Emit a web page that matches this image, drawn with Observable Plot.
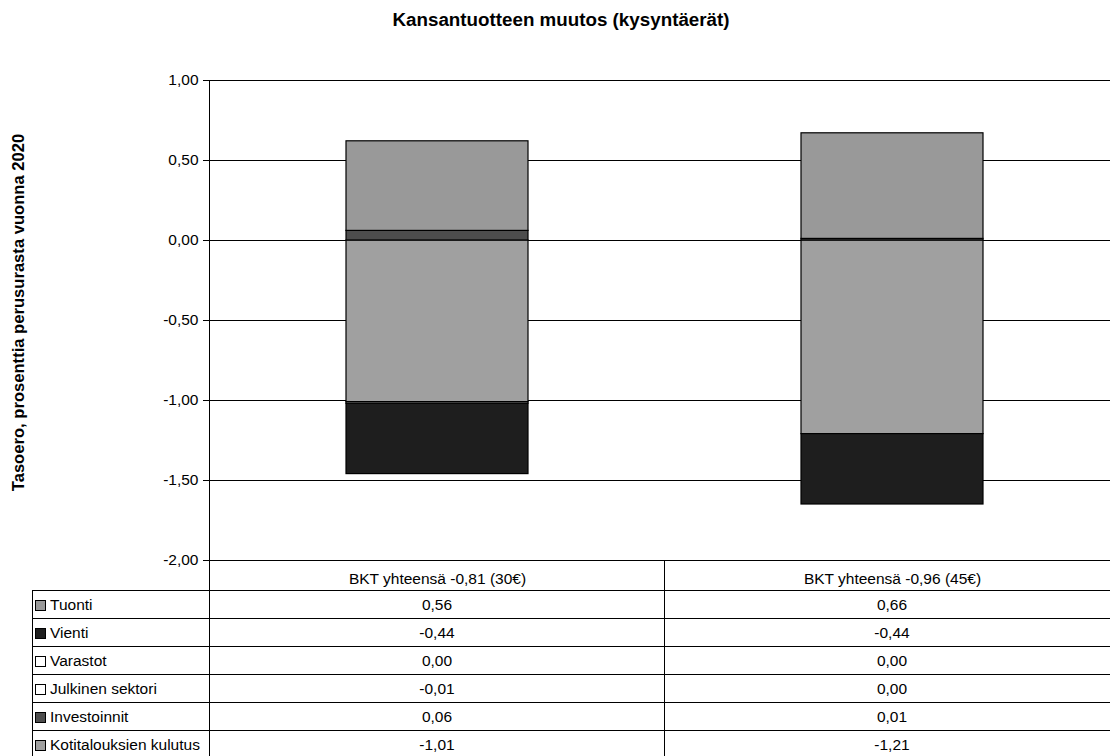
<!DOCTYPE html>
<html>
<head>
<meta charset="utf-8">
<script src="https://cdn.jsdelivr.net/npm/d3@7"></script>
<script src="https://cdn.jsdelivr.net/npm/@observablehq/plot@0.6"></script>
<style>
  html, body { margin: 0; padding: 0; background: #fff; overflow: hidden; }
  #wrap { position: relative; width: 1110px; height: 756px; overflow: hidden; font-family: "Liberation Sans", Arial, sans-serif; color: #000; }
  #title { position: absolute; left: 0; top: 9px; width: 1122px; text-align: center; font-weight: bold; font-size: 18.8px; line-height: 22px; }
  #chart { position: absolute; left: 0; top: 0; }
  #tbl { position: absolute; left: 32px; top: 560px; border-collapse: separate; border-spacing: 0; table-layout: fixed; width: 1087px; font-size: 15.5px; }
  #tbl td { padding: 0; vertical-align: middle; }
  #tbl tr.head td { height: 30px; }
  #tbl tr.head td.cat { border-left: 1px solid #000; }
  #tbl tr.row td { height: 27px; border-top: 1px solid #000; border-left: 1px solid #000; text-align: center; }
  #tbl tr.row td.lab { text-align: left; padding-left: 2px; white-space: nowrap; }
  .sw { display: inline-block; width: 9px; height: 9px; border: 1px solid #000; margin-right: 4px; vertical-align: -1px; }
</style>
</head>
<body>
<div id="wrap">
  <div id="title"></div>
  <div id="chart"></div>
  <table id="tbl"></table>
</div>
<script>
// ---- data ----
const title = "Kansantuotteen muutos (kysyntäerät)";
const yLabel = "Tasoero, prosenttia perusurasta vuonna 2020";
const categories = ["BKT yhteensä -0,81 (30€)", "BKT yhteensä -0,96 (45€)"];
// table order (top to bottom)
const seriesNames = ["Tuonti", "Vienti", "Varastot", "Julkinen sektori", "Investoinnit", "Kotitalouksien kulutus"];
const tuonti = [0.56, 0.66];
const vienti = [-0.44, -0.44];
const varastot = [0.00, 0.00];
const julkinen = [-0.01, 0.00];
const investoinnit = [0.06, 0.01];
const kotitaloudet = [-1.01, -1.21];
const yTicks = [1.0, 0.5, 0.0, -0.5, -1.0, -1.5, -2.0];

// ---- styles ----
const seriesColors = ["#999999", "#1e1e1e", "#ffffff", "#ffffff", "#4d4d4d", "#a0a0a0"];

const seriesValues = [tuonti, vienti, varastot, julkinen, investoinnit, kotitaloudet];
const fmt = v => v.toFixed(2).replace(".", ",");

// stacking order: first series in Excel (Kotitalouksien kulutus) lies nearest zero
const stackOrder = seriesNames.map((_, i) => i).reverse();
const data = [];
for (const si of stackOrder) {
  categories.forEach((c, ci) => data.push({cat: c, series: seriesNames[si], value: seriesValues[si][ci]}));
}

document.getElementById("title").textContent = title;

const chart = Plot.plot({
  width: 1110,
  height: 590,
  marginTop: 80,
  marginBottom: 30,
  marginLeft: 209,
  marginRight: 0,
  style: {fontFamily: "Liberation Sans, Arial, sans-serif", fontSize: "15.5px", color: "#000", background: "transparent", overflow: "visible"},
  x: {domain: categories, range: [209, 1119], paddingInner: 0.6, paddingOuter: 0.3, label: null},
  y: {domain: [-2, 1], label: null},
  color: {domain: seriesNames, range: seriesColors},
  marks: [
    Plot.ruleY(yTicks, {stroke: "#000", strokeWidth: 1}),
    Plot.barY(data.filter(d => d.value !== 0), Plot.stackY({x: "cat", y: "value", fill: "series", stroke: "#000", strokeWidth: 1.2})),
    Plot.frame({anchor: "left", stroke: "#000"}),
    Plot.axisY({ticks: yTicks, tickFormat: fmt, tickSize: 6, tickPadding: 5, fontSize: 15.5, stroke: "#000", label: null}),
    Plot.axisX({tickSize: 0, tickPadding: 12, fontSize: 15.5, label: null}),
    Plot.text([yLabel], {frameAnchor: "left", textAnchor: "middle", dx: -191, dy: -8, rotate: -90, fontWeight: "bold", fontSize: 16.6, fill: "#000"})
  ]
});
document.getElementById("chart").appendChild(chart);

// ---- data table ----
const tbl = document.getElementById("tbl");
const colg = document.createElement("colgroup");
[177, 455, 455].forEach(w => { const c = document.createElement("col"); c.style.width = w + "px"; colg.appendChild(c); });
tbl.appendChild(colg);
const head = document.createElement("tr");
head.className = "head";
head.appendChild(document.createElement("td"));
categories.forEach(() => { const td = document.createElement("td"); td.className = "cat"; head.appendChild(td); });
tbl.appendChild(head);
seriesNames.forEach((name, si) => {
  const tr = document.createElement("tr");
  tr.className = "row";
  const lab = document.createElement("td");
  lab.className = "lab";
  const sw = document.createElement("span");
  sw.className = "sw";
  sw.style.background = seriesColors[si];
  lab.appendChild(sw);
  lab.appendChild(document.createTextNode(name));
  tr.appendChild(lab);
  categories.forEach((c, ci) => {
    const td = document.createElement("td");
    td.textContent = fmt(seriesValues[si][ci]);
    tr.appendChild(td);
  });
  tbl.appendChild(tr);
});
</script>
</body>
</html>
